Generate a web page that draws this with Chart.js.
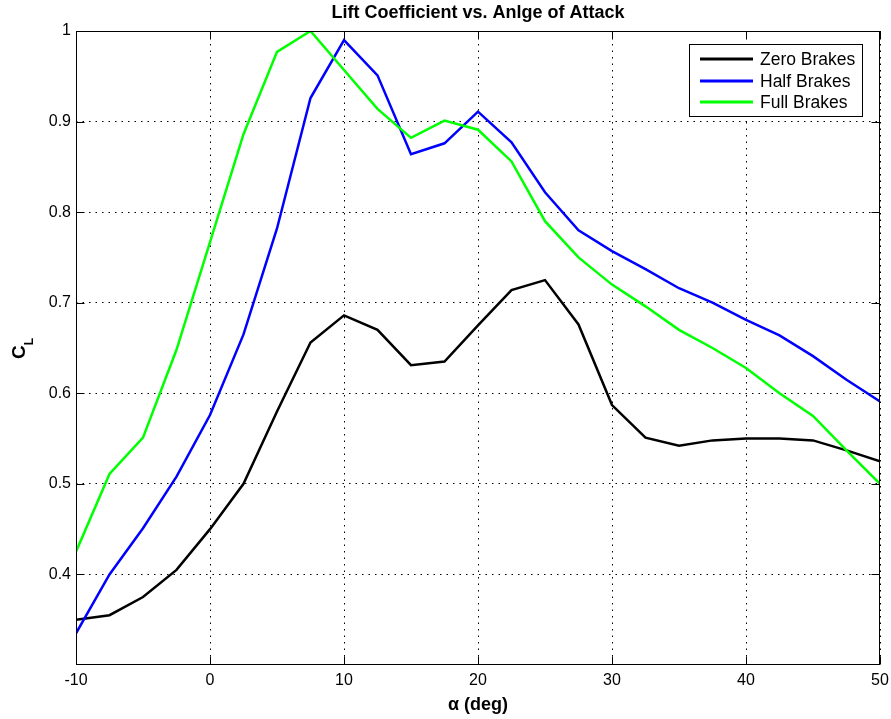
<!DOCTYPE html>
<html>
<head>
<meta charset="utf-8">
<title>Lift Coefficient vs. Anlge of Attack</title>
<script src="https://cdn.jsdelivr.net/npm/chart.js@4.4.0/dist/chart.umd.min.js"></script>
<style>
    html, body { margin: 0; padding: 0; background: #fff; }
    canvas { display: block; }
</style>
</head>
<body>
<canvas id="myChart" width="891" height="719"></canvas>
<script>
// angle of attack (deg)
const alpha = [-10, -7.5, -5, -2.5, 0, 2.5, 5, 7.5, 10, 12.5, 15, 17.5, 20, 22.5, 25, 27.5, 30, 32.5, 35, 37.5, 40, 42.5, 45, 47.5, 50];

// lift coefficient for each brake setting
const zeroBrakes = [0.350, 0.355, 0.375, 0.405, 0.450, 0.500, 0.580, 0.656, 0.686, 0.670, 0.631, 0.635, 0.675, 0.714, 0.725, 0.676, 0.587, 0.551, 0.542, 0.548, 0.550, 0.550, 0.548, 0.537, 0.525];
const halfBrakes = [0.335, 0.400, 0.451, 0.508, 0.576, 0.665, 0.782, 0.926, 0.990, 0.951, 0.864, 0.876, 0.911, 0.877, 0.822, 0.780, 0.757, 0.737, 0.716, 0.700, 0.681, 0.664, 0.641, 0.615, 0.591];
const fullBrakes = [0.425, 0.511, 0.551, 0.648, 0.767, 0.886, 0.977, 1.000, 0.957, 0.914, 0.882, 0.901, 0.891, 0.856, 0.790, 0.750, 0.720, 0.696, 0.670, 0.650, 0.628, 0.600, 0.575, 0.537, 0.500];

const xTicks = [-10, 0, 10, 20, 30, 40, 50];
const yTicks = [0.4, 0.5, 0.6, 0.7, 0.8, 0.9, 1];

const FONT = "'Liberation Sans', Arial, Helvetica, sans-serif";

function toPoints(ys) {
    return alpha.map((a, i) => ({ x: a, y: ys[i] }));
}

// box, inward ticks, y label with subscript and the legend box (matlab look)
const matlabFrame = {
    id: 'matlabFrame',
    afterDraw(chart) {
        const { ctx, chartArea: a, scales } = chart;
        const x = scales.x, y = scales.y;
        ctx.save();
        ctx.setLineDash([]);
        ctx.strokeStyle = '#000';
        ctx.lineWidth = 1;

        const L = Math.round(a.left) + 0.5, R = Math.round(a.right) - 0.5;
        const T = Math.round(a.top) + 0.5, B = Math.round(a.bottom) - 0.5;
        ctx.strokeRect(L, T, R - L, B - T);

        ctx.beginPath();
        xTicks.forEach(v => {
            const px = Math.round(x.getPixelForValue(v)) + 0.5;
            ctx.moveTo(px, B); ctx.lineTo(px, B - 8);
            ctx.moveTo(px, T); ctx.lineTo(px, T + 8);
        });
        yTicks.forEach(v => {
            const py = Math.round(y.getPixelForValue(v)) + 0.5;
            ctx.moveTo(L, py); ctx.lineTo(L + 8, py);
            ctx.moveTo(R, py); ctx.lineTo(R - 8, py);
        });
        ctx.stroke();

        // y axis label C_L
        ctx.save();
        ctx.translate(25, 359);
        ctx.rotate(-Math.PI / 2);
        ctx.fillStyle = '#000';
        ctx.textAlign = 'left';
        ctx.textBaseline = 'alphabetic';
        ctx.font = 'bold 19px ' + FONT;
        ctx.fillText('C', 0, 0);
        const cw = ctx.measureText('C').width;
        ctx.font = 'bold 12px ' + FONT;
        ctx.fillText('L', cw, 8);
        ctx.restore();

        // legend
        const lx = 689.5, ly = 44.5, lw = 173, lh = 72;
        ctx.fillStyle = '#fff';
        ctx.fillRect(lx, ly, lw, lh);
        ctx.strokeRect(lx, ly, lw, lh);
        ctx.font = '17.5px ' + FONT;
        ctx.textBaseline = 'middle';
        ctx.textAlign = 'left';
        const rows = [59, 81, 102];
        chart.data.datasets.forEach((ds, i) => {
            ctx.strokeStyle = ds.borderColor;
            ctx.lineWidth = 3;
            ctx.beginPath();
            ctx.moveTo(700, rows[i]);
            ctx.lineTo(753, rows[i]);
            ctx.stroke();
            ctx.fillStyle = '#000';
            ctx.fillText(ds.label, 760, rows[i] + 1);
        });
        ctx.restore();
    }
};

const ctx = document.getElementById('myChart');
const myChart = new Chart(ctx, {
    type: 'line',
    data: {
        datasets: [{
                label: 'Zero Brakes',
                data: toPoints(zeroBrakes),
                borderColor: '#000000',
                borderWidth: 2.5,
                order: 3
            },
            {
                label: 'Half Brakes',
                data: toPoints(halfBrakes),
                borderColor: '#0000ff',
                borderWidth: 2.5,
                order: 2
            },
            {
                label: 'Full Brakes',
                data: toPoints(fullBrakes),
                borderColor: '#00ff00',
                borderWidth: 2.5,
                order: 1
            }
        ]
    },
    options: {
        responsive: false,
        animation: false,
        layout: { padding: { top: 0, right: 11, bottom: 0, left: 0 } },
        elements: {
            point: { radius: 0 },
            line: { tension: 0, fill: false }
        },
        plugins: {
            legend: { display: false },
            tooltip: { enabled: false },
            title: {
                display: true,
                fullSize: false,
                text: 'Lift Coefficient vs. Anlge of Attack',
                color: '#000',
                font: { family: FONT, size: 18, weight: 'bold', lineHeight: 1.2 },
                padding: { top: 2, bottom: 7.4 }
            }
        },
        scales: {
            x: {
                type: 'linear',
                min: -10,
                max: 50,
                afterBuildTicks: s => { s.ticks = xTicks.map(v => ({ value: v })); },
                afterFit: s => { s.height = 54; s.paddingLeft = 0; s.paddingRight = 0; },
                ticks: {
                    color: '#000',
                    padding: 6,
                    maxRotation: 0,
                    font: { family: FONT, size: 16 },
                    callback: v => String(v)
                },
                grid: { color: '#000', lineWidth: 1, drawTicks: false },
                border: { display: false, dash: [1.5, 5] },
                title: {
                    display: true,
                    text: 'α (deg)',
                    color: '#000',
                    font: { family: FONT, size: 18, weight: 'bold', lineHeight: 1.2 },
                    padding: { top: 0, bottom: 3 }
                }
            },
            y: {
                type: 'linear',
                min: 0.3,
                max: 1,
                afterBuildTicks: s => { s.ticks = yTicks.map(v => ({ value: v })); },
                afterFit: s => { s.width = 76; },
                ticks: {
                    color: '#000',
                    padding: 5,
                    font: { family: FONT, size: 16 },
                    callback: v => String(Math.round(v * 10) / 10)
                },
                grid: { color: '#000', lineWidth: 1, drawTicks: false },
                border: { display: false, dash: [1.5, 5] }
            }
        }
    },
    plugins: [matlabFrame]
});
</script>
</body>
</html>
